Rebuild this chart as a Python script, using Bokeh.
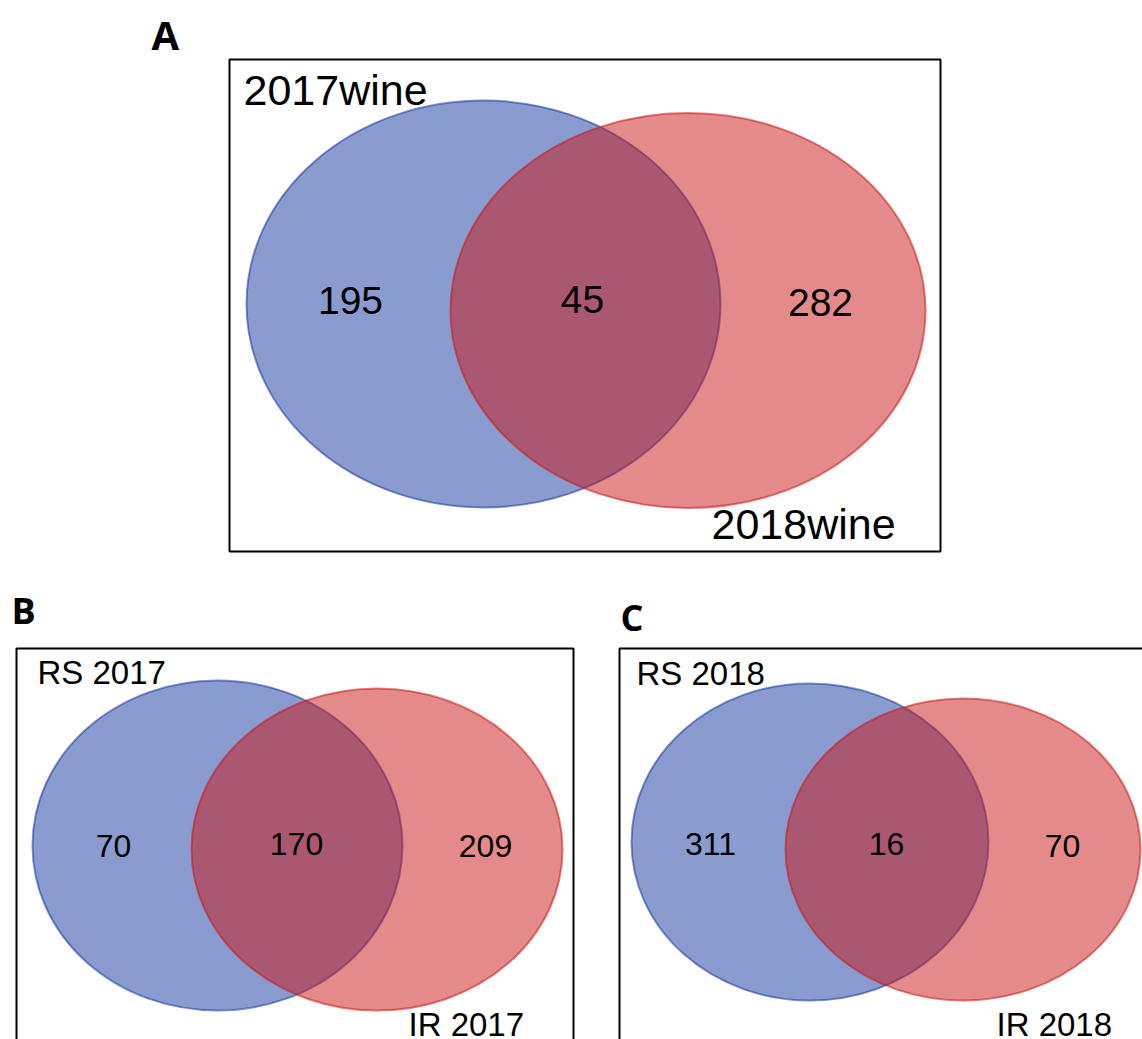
from bokeh.plotting import figure
from bokeh.models import Range1d, ColumnDataSource
from bokeh.core.properties import value
from bokeh.embed import file_html
from bokeh.resources import INLINE

# Venn counts for the three comparisons
panel_ids = ["A", "B", "C"]
left_sets = ["2017wine", "RS 2017", "RS 2018"]
right_sets = ["2018wine", "IR 2017", "IR 2018"]
left_only = [195, 70, 311]
shared = [45, 170, 16]
right_only = [282, 209, 70]

W, H = 1142, 1039

# Page geometry for each panel (pixels, y grows downward; text y = vertical middle)
panels = [
    dict(box=(229, 940, 59, 551), tag=(151, 33.5, "40px"),
         blue=(483, 303.5, 474, 407), red=(687.5, 310, 475, 395),
         n_left=(350, 300), n_mid=(582, 299), n_right=(820, 302), n_size="39px",
         lab_left=(243, 89.5), lab_right=(711, 523.5), lab_size="43px"),
    dict(box=(16, 573, 648, 1080), tag=(11, 610, "36px"),
         blue=(217, 845, 370, 330), red=(376.5, 849, 371, 322),
         n_left=(113, 845), n_mid=(296, 843), n_right=(485, 845), n_size="32px",
         lab_left=(37, 672), lab_right=(408, 1023.5), lab_size="33px"),
    dict(box=(619, 1180, 648, 1080), tag=(620, 617, "36px"),
         blue=(809.5, 841.5, 357, 317), red=(962.5, 849, 355, 302),
         n_left=(710, 843), n_mid=(886, 843), n_right=(1062, 845), n_size="32px",
         lab_left=(636, 673), lab_right=(996, 1023.5), lab_size="33px"),
]

BLUE = "#15379F"
RED = "#C91515"

p = figure(width=W, height=H, x_range=Range1d(0, W), y_range=Range1d(H, 0),
           output_backend="svg", toolbar_location=None,
           x_axis_location=None, y_axis_location=None, min_border=0)
p.grid.visible = False
p.outline_line_color = None
p.background_fill_color = "white"
p.border_fill_color = "white"

for i, g in enumerate(panels):
    l, r, t, b = g["box"]
    p.quad(left=[l], right=[r], top=[t], bottom=[b], fill_color=None,
           line_color="black", line_width=2)

    bx, by, bw, bh = g["blue"]
    p.ellipse(x=[bx], y=[by], width=[bw], height=[bh], fill_color=BLUE,
              fill_alpha=0.5, line_color=BLUE, line_alpha=0.55, line_width=2)
    rx, ry, rw, rh = g["red"]
    p.ellipse(x=[rx], y=[ry], width=[rw], height=[rh], fill_color=RED,
              fill_alpha=0.5, line_color=RED, line_alpha=0.55, line_width=2)

    counts = ColumnDataSource(dict(
        x=[g["n_left"][0], g["n_mid"][0], g["n_right"][0]],
        y=[g["n_left"][1], g["n_mid"][1], g["n_right"][1]],
        t=[str(left_only[i]), str(shared[i]), str(right_only[i])]))
    p.text(x="x", y="y", text="t", source=counts, text_align="center",
           text_baseline="middle", text_font=value("Liberation Sans"),
           text_font_size=g["n_size"], text_color="black")

    p.text(x=[g["lab_left"][0], g["lab_right"][0]],
           y=[g["lab_left"][1], g["lab_right"][1]],
           text=[left_sets[i], right_sets[i]], text_align="left",
           text_baseline="middle", text_font=value("Liberation Sans"),
           text_font_size=g["lab_size"], text_color="black")

    tx, ty, ts = g["tag"]
    p.text(x=[tx], y=[ty], text=[panel_ids[i]], text_align="left",
           text_baseline="middle", text_font=value("Open Sans"),
           text_font_style="bold", text_font_size=ts, text_color="black")

open("out.html", "w").write(file_html(p, INLINE))
